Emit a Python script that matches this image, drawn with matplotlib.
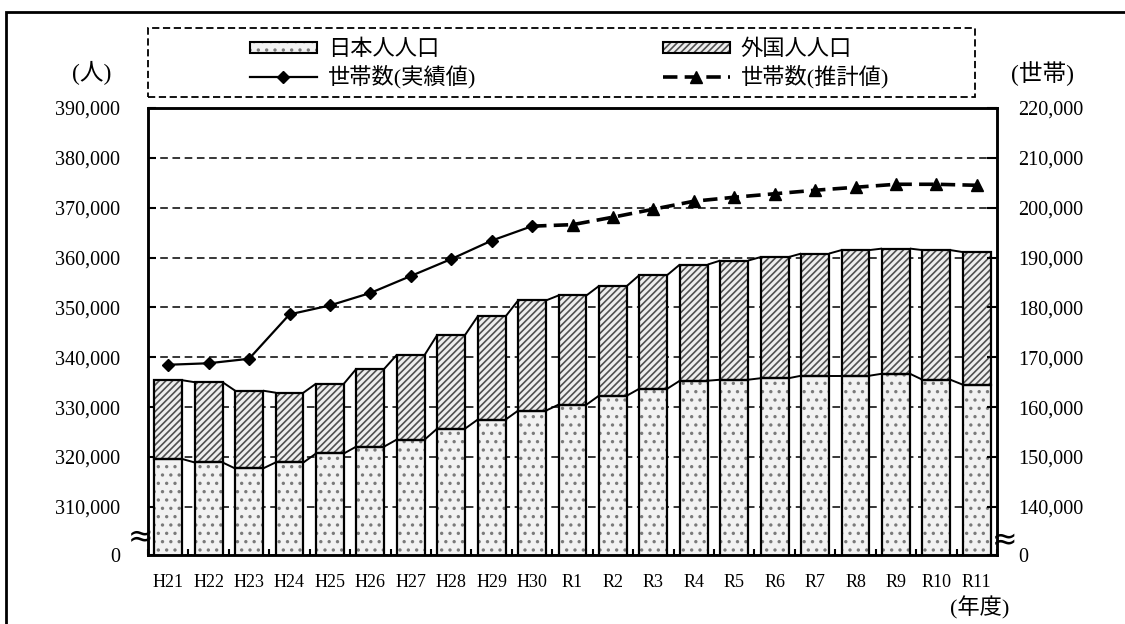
import matplotlib
matplotlib.use('Agg')
import matplotlib.pyplot as plt
import numpy as np
from matplotlib.patches import Rectangle, Patch
from matplotlib.lines import Line2D
from matplotlib.legend_handler import HandlerTuple

# ---------------- data ----------------
years = ['H21', 'H22', 'H23', 'H24', 'H25', 'H26', 'H27', 'H28', 'H29', 'H30',
         'R1', 'R2', 'R3', 'R4', 'R5', 'R6', 'R7', 'R8', 'R9', 'R10', 'R11']
japanese = [319600, 318900, 317700, 318900, 320700, 322100, 323500, 325700, 327500, 329300,
            330500, 332300, 333700, 335300, 335500, 335800, 336300, 336300, 336700, 335500, 334500]
foreign = [15800, 16100, 15600, 14000, 14000, 15600, 17000, 18800, 20700, 22100,
           21900, 22000, 22800, 23300, 23900, 24300, 24500, 25200, 25100, 26000, 26600]
households_actual = [168500, 168800, 169700, 178600, 180400, 182900, 186300, 189700, 193400, 196300]
households_est = [196600, 198100, 199700, 201300, 202100, 202800, 203500, 204100, 204700, 204700, 204500]

left_ticks = [310000, 320000, 330000, 340000, 350000, 360000, 370000, 380000, 390000]
right_ticks = [140000, 150000, 160000, 170000, 180000, 190000, 200000, 210000, 220000]

legend_labels = ['日本人人口', '外国人人口', '世帯数(実績値)', '世帯数(推計値)']

# ---------------- style ----------------
plt.rcParams['font.family'] = ['Liberation Serif', 'Noto Sans CJK JP']
plt.rcParams['hatch.linewidth'] = 1.2

W, H = 1125, 624
fig = plt.figure(figsize=(W / 100, H / 100), dpi=100)
ax = fig.add_axes([148 / W, 1 - 555 / H, (997 - 148) / W, (555 - 108) / H])
ax2 = ax.twinx()

BOTTOM = 300340      # value shown at the broken-axis "0"
OFFSET = 170000      # left axis value minus right axis value
ax.set_ylim(BOTTOM, 390000)
ax2.set_ylim(BOTTOM - OFFSET, 220000)
ax.set_xlim(-0.5, len(years) - 0.5)

x = np.arange(len(years))
jp = np.array(japanese)
fr = np.array(foreign)
tot = jp + fr
w = 0.69

JP_FACE = '#f2f2f2'
FR_FACE = '#eeeeee'
DOT_COL = '#7a7a7a'
HATCH_COL = '#505050'

# bars: hatch layers
plt.rcParams['hatch.color'] = DOT_COL
ax.bar(x, jp, width=w, color=JP_FACE, hatch='..', linewidth=0, zorder=2)
jp_patch = Patch(facecolor=JP_FACE, hatch='..', linewidth=0)
plt.rcParams['hatch.color'] = HATCH_COL
ax.bar(x, fr, bottom=jp, width=w, color=FR_FACE, hatch='/////', linewidth=0, zorder=2)
fr_patch = Patch(facecolor=FR_FACE, hatch='/////', linewidth=0)
# bars: outlines
ax.bar(x, jp, width=w, fill=False, edgecolor='black', linewidth=1.6, zorder=3)
ax.bar(x, fr, bottom=jp, width=w, fill=False, edgecolor='black', linewidth=1.6, zorder=3)

# series lines between bars
for arr in (jp, tot):
    for i in range(len(x) - 1):
        ax.plot([x[i] + w / 2, x[i + 1] - w / 2], [arr[i], arr[i + 1]],
                color='black', lw=1.4, zorder=3, solid_capstyle='butt')

# grid
ax.set_axisbelow(True)
ax.set_yticks([BOTTOM] + left_ticks, ['0'] + [f'{v:,}' for v in left_ticks])
ax.yaxis.grid(True, linestyle=(0, (5, 3)), color='black', linewidth=1.1)
ax.tick_params(axis='y', direction='in', length=6, width=1.5, pad=20, labelsize=14.5)

ax.set_xticks(x, years)
ax.tick_params(axis='x', which='major', length=0, pad=14, labelsize=13)
ax.set_xticks(np.arange(-0.5, len(years)), minor=True)
ax.tick_params(axis='x', which='minor', direction='in', length=4, width=1.5)

ax2.set_yticks([BOTTOM - OFFSET] + right_ticks, ['0'] + [f'{v:,}' for v in right_ticks])
ax2.tick_params(axis='y', direction='in', length=7, width=1.5, pad=15, labelsize=14.5)

for a in (ax, ax2):
    for s in a.spines.values():
        s.set_linewidth(1.8)

# households
xa = x[:len(households_actual)]
ax2.plot(xa, households_actual, '-', color='black', lw=1.6, marker='D', ms=6, zorder=5)
xe = x[len(households_actual) - 1:]
ax2.plot(xe, [households_actual[-1]] + households_est, color='black', lw=2.6,
         linestyle=(0, (4, 2)), zorder=4)
ax2.plot(x[len(households_actual):], households_est, linestyle='none', marker='^',
         ms=9, color='black', zorder=5)

# broken-axis marks
fig.text(141 / W, 1 - 538 / H, '≈', fontsize=22, ha='center', va='center', family='DejaVu Sans')
fig.text(1005 / W, 1 - 541 / H, '≈', fontsize=22, ha='center', va='center', family='DejaVu Sans')

# axis unit labels
fig.text(92 / W, 1 - 73 / H, '(人)', ha='center', va='center', fontsize=17)
fig.text(1043 / W, 1 - 73 / H, '(世帯)', ha='center', va='center', fontsize=17)
fig.text(980 / W, 1 - 608 / H, '(年度)', ha='center', va='center', fontsize=16)

# outer frame and legend frame
fig.add_artist(Rectangle((6 / W, -1), 2, 2 - 12 / H, transform=fig.transFigure,
                         fill=False, lw=2, ec='black'))
fig.add_artist(Rectangle((148 / W, 1 - 97 / H), (975 - 148) / W, (97 - 28) / H,
                         transform=fig.transFigure, fill=False, lw=1.3, ec='black',
                         linestyle=(0, (4, 2))))

edge = Patch(fill=False, edgecolor='black', linewidth=1.5)
h_act = Line2D([], [], color='black', lw=1.6, marker='D', ms=6)
h_est = Line2D([], [], color='black', lw=2.6, linestyle=(0, (4, 2)), marker='^', ms=9)
common = dict(loc='upper left', frameon=False, fontsize=16, handlelength=3.0,
              handleheight=0.45, handletextpad=0.5, borderpad=0, borderaxespad=0,
              labelspacing=0.22, handler_map={tuple: HandlerTuple(ndivide=1)})
fig.legend(handles=[(jp_patch, edge), h_act], labels=[legend_labels[0], legend_labels[2]],
           bbox_to_anchor=(250 / W, 1 - 40 / H), **common)
fig.legend(handles=[(fr_patch, edge), h_est], labels=[legend_labels[1], legend_labels[3]],
           bbox_to_anchor=(663 / W, 1 - 40 / H), **common)

fig.savefig('out.png', dpi=100)
